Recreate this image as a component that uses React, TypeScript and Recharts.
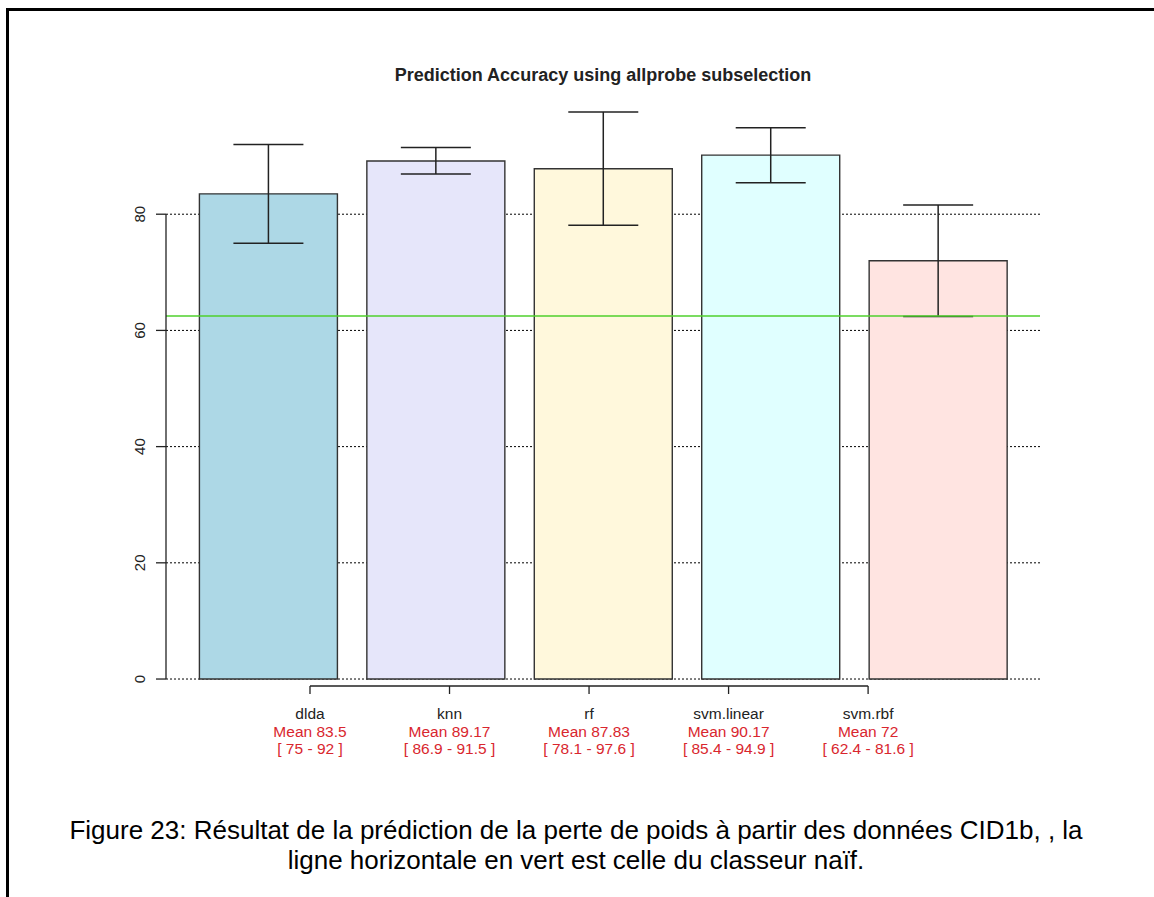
import {
  ComposedChart, Bar, XAxis, YAxis, CartesianGrid, ErrorBar,
  ReferenceLine, Cell,
} from 'recharts';

const models = ['dlda', 'knn', 'rf', 'svm.linear', 'svm.rbf'];
const means = [83.5, 89.17, 87.83, 90.17, 72];
const lows = [75, 86.9, 78.1, 85.4, 62.4];
const highs = [92, 91.5, 97.6, 94.9, 81.6];
const naiveAccuracy = 62.5;
const yTicks = [0, 20, 40, 60, 80];

const BAR_COLORS = ['#ADD8E6', '#E6E6FA', '#FFF8DC', '#E0FFFF', '#FFE4E1'];
const RED = '#d9262e';
const INK = '#222';
const SANS = '"Liberation Sans", Arial, Helvetica, sans-serif';

// barplot geometry: width 1, space 0.2 -> bar centres at 0.7, 1.9, ...
const data = models.map((m, i) => ({
  name: m,
  pos: 0.7 + 1.2 * i,
  mean: means[i],
  err: [means[i] - lows[i], highs[i] - means[i]],
}));
const xDomain = [0.2 - 0.232, 6.0 + 0.232];
// axis(1, at = 1:5) — labels sit at integer positions, not under the bars
const labelTicks = models.map((_, i) => i + 1);

function YTick(props: any) {
  const { x, y, payload } = props;
  const bx = x - 11;
  return (
    <text x={bx} y={y} transform={`rotate(-90 ${bx} ${y})`} textAnchor="middle"
      fill={INK} fontSize={15} fontFamily={SANS}>
      {payload.value}
    </text>
  );
}

function XTick(props: any) {
  const { x, y, payload } = props;
  const i = labelTicks.indexOf(payload.value);
  if (i < 0) return null;
  return (
    <g fontFamily={SANS} fontSize={15.5} textAnchor="middle">
      <text x={x} y={y + 25} fill={INK}>{models[i]}</text>
      <text x={x} y={y + 43} fill={RED}>Mean {means[i]}</text>
      <text x={x} y={y + 60} fill={RED}>[ {lows[i]} - {highs[i]} ]</text>
    </g>
  );
}

export default function App() {
  return (
    <div style={{ position: 'absolute', left: 0, top: 0, width: 1154, height: 897, overflow: 'hidden', background: '#fff' }}>
      <div style={{ position: 'absolute', left: 6, top: 8, width: 1300, height: 1000, borderLeft: '3px solid #000', borderTop: '3px solid #000' }} />
      <div style={{ position: 'absolute', left: 166, width: 874, top: 65, textAlign: 'center', fontFamily: SANS, fontWeight: 'bold', fontSize: 18, color: INK }}>
        Prediction Accuracy using allprobe subselection
      </div>
      <div style={{ position: 'absolute', left: 0, top: 0 }}>
        <ComposedChart width={1154} height={800} data={data}
          margin={{ top: 98, right: 114, bottom: 34, left: 106 }}>
          <CartesianGrid horizontal vertical={false} horizontalValues={yTicks}
            stroke="#000" strokeDasharray="2 2" />
          <XAxis dataKey="pos" type="number" domain={xDomain} allowDataOverflow ticks={labelTicks}
            axisLine={false} tickSize={8} tickMargin={0} tickLine={{ stroke: INK, strokeWidth: 1.3 }}
            tick={<XTick />} height={80} interval={0} />
          <YAxis domain={[-1.2, 100]} allowDataOverflow ticks={yTicks} width={60}
            axisLine={false} tickSize={10} tickMargin={0} tickLine={{ stroke: INK, strokeWidth: 1.3 }}
            tick={<YTick />} interval={0} />
          <Bar dataKey="mean" barSize={138} stroke="#333" strokeWidth={1.4} isAnimationActive={false}>
            {data.map((d, i) => (
              <Cell key={d.name} fill={BAR_COLORS[i]} />
            ))}
            <ErrorBar dataKey="err" direction="y" width={35} stroke={INK} strokeWidth={1.5} />
          </Bar>
          <ReferenceLine y={naiveAccuracy} stroke="#4fd02c" strokeWidth={1.5} />
          <ReferenceLine segment={[{ x: xDomain[0], y: 0 }, { x: xDomain[0], y: 80 }]}
            stroke={INK} strokeWidth={1.3} />
          <ReferenceLine segment={[{ x: 1, y: -1.2 }, { x: 5, y: -1.2 }]}
            stroke={INK} strokeWidth={1.3} />
        </ComposedChart>
      </div>
      <div style={{ position: 'absolute', left: 0, width: 1152, top: 815, textAlign: 'center', fontFamily: SANS, fontSize: 26, lineHeight: '30px', color: '#000' }}>
        Figure 23: Résultat de la prédiction de la perte de poids à partir des données CID1b, , la<br />
        ligne horizontale en vert est celle du classeur naïf.
      </div>
    </div>
  );
}
